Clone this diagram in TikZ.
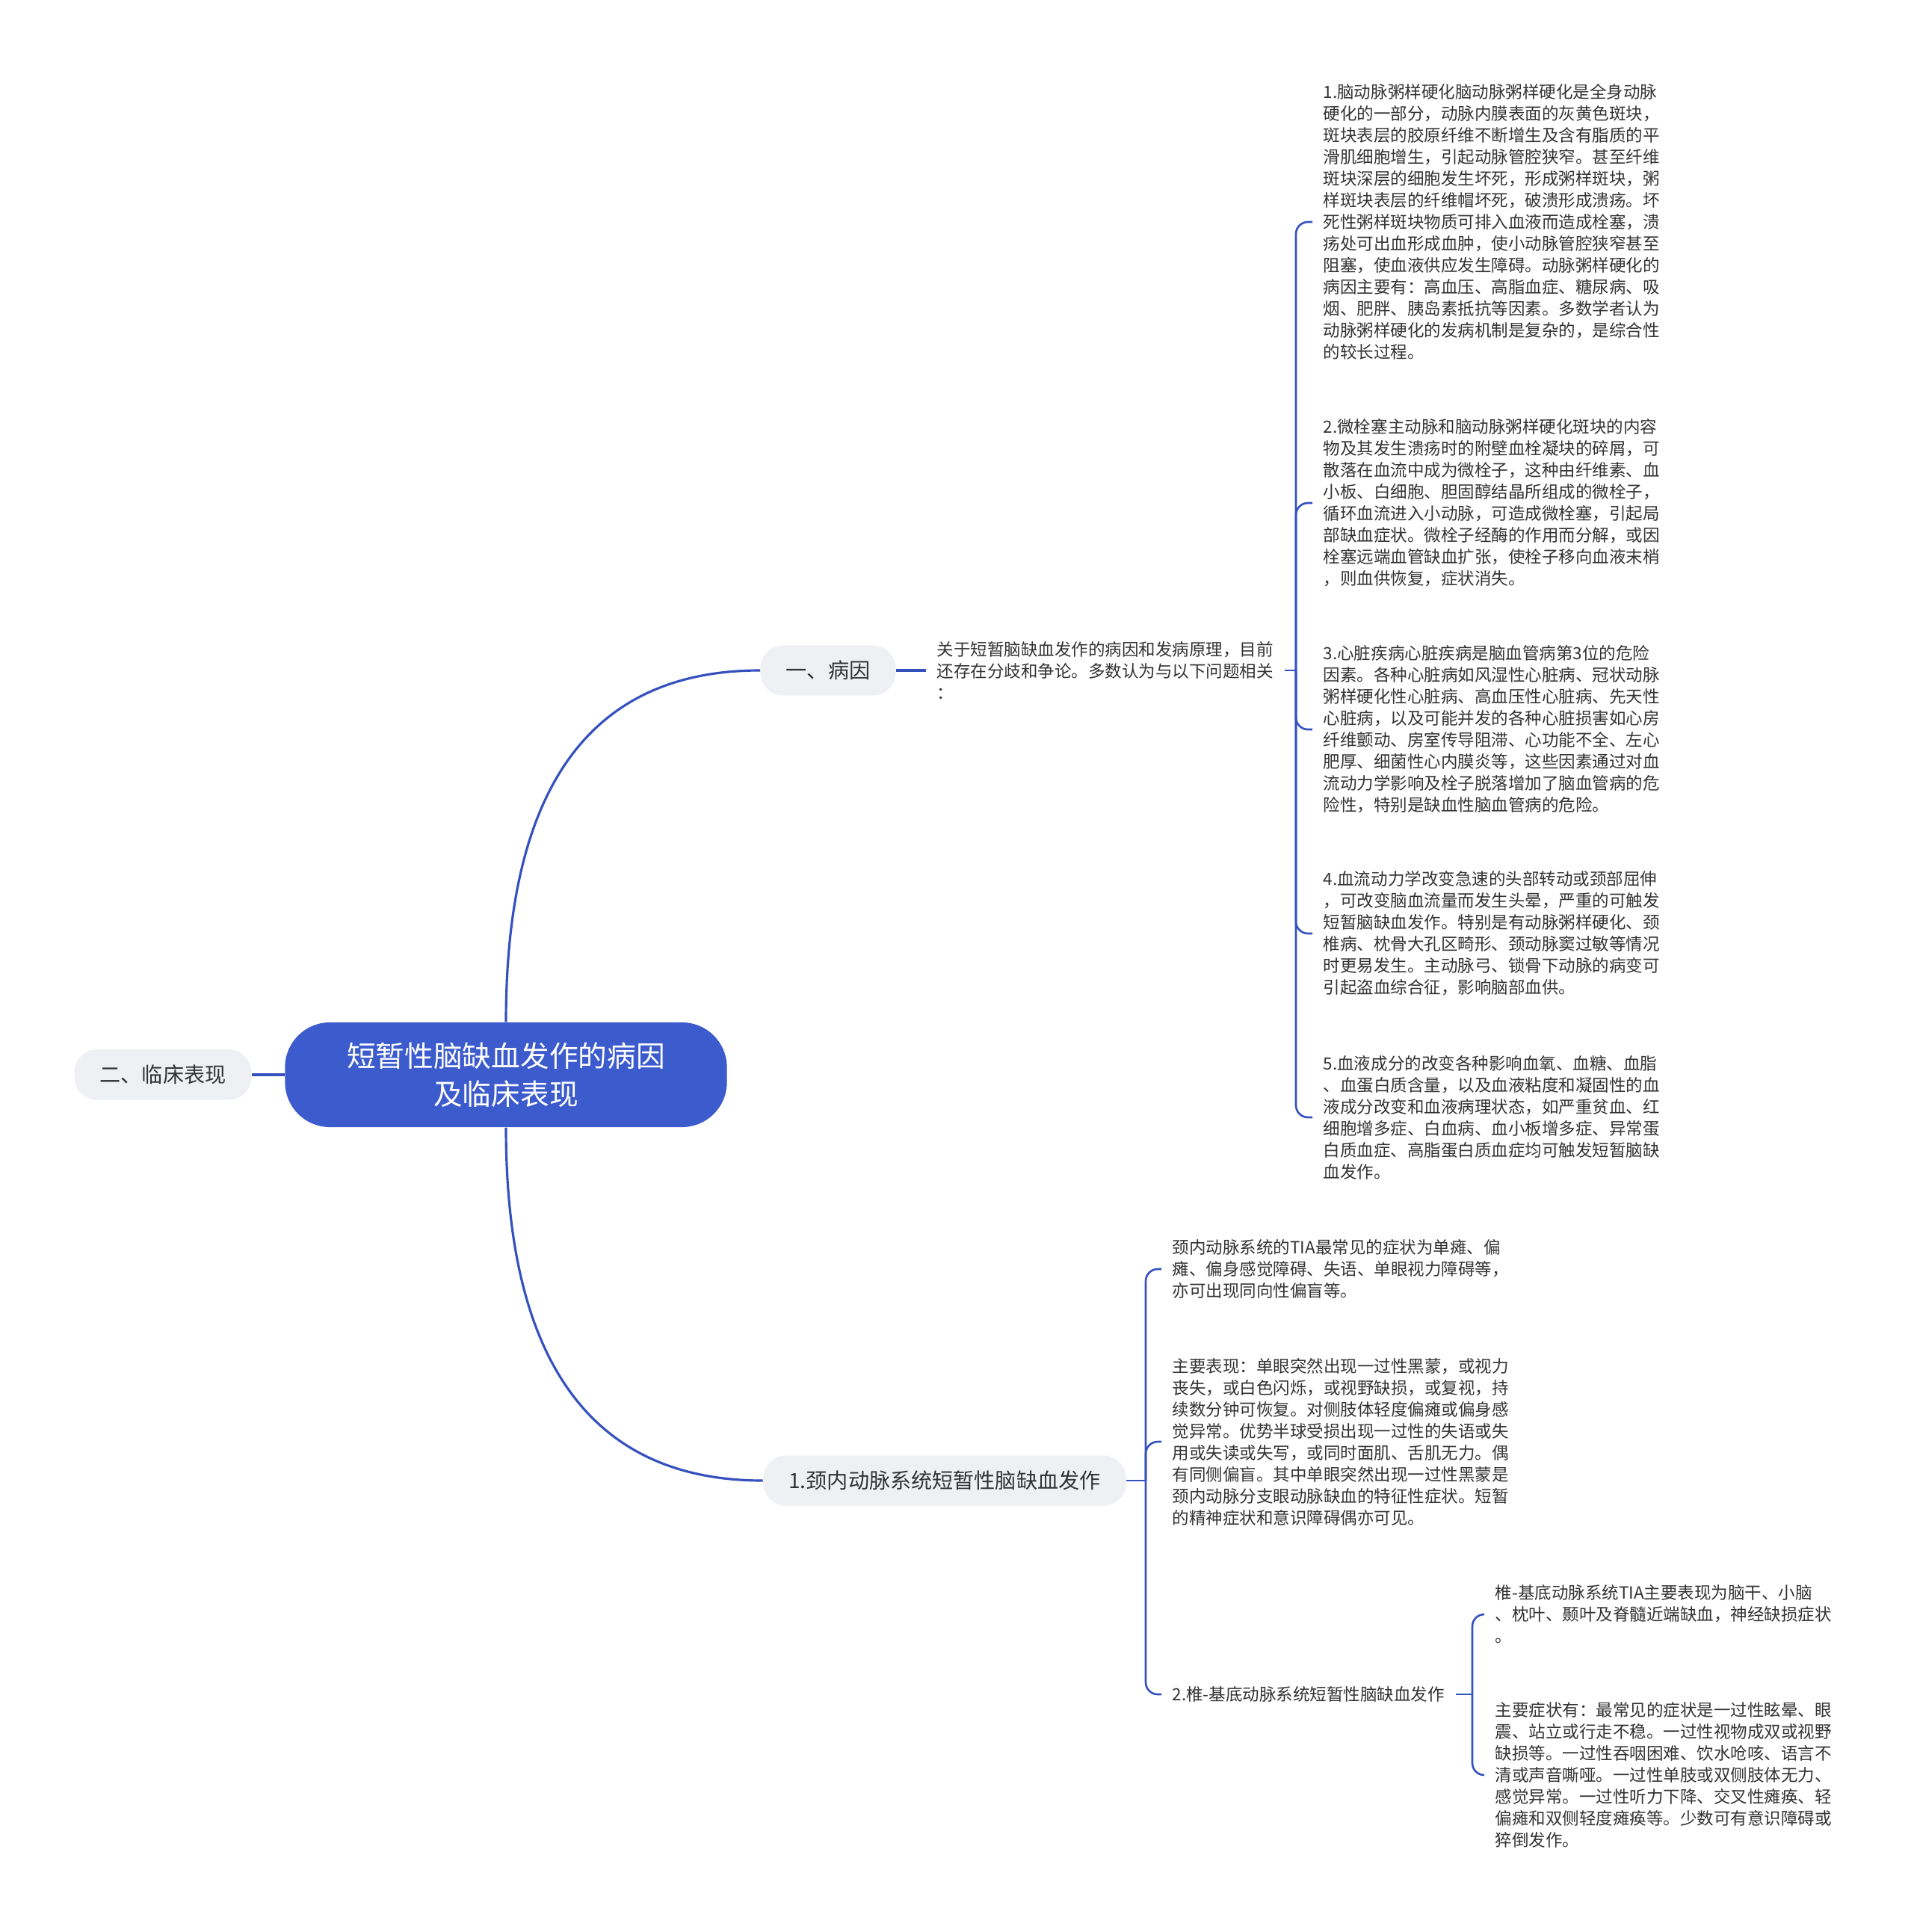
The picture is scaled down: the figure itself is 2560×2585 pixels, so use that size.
\documentclass[tikz,border=0pt]{standalone}
\usepackage{fontspec}
\setmainfont{Noto Sans CJK SC}

\begin{document}
\begin{tikzpicture}[x=0.01cm, y=-0.01cm,
    rootNode/.style={fill=rootColour, text=white, rounded corners=0.6cm,
        minimum width=5.91cm, minimum height=1.4cm, align=center,
        font=\fontsize{11}{14.5}\selectfont},
    topicNode/.style={fill=topicColour, text=textColour, rounded corners=0.3cm,
        minimum height=0.67cm, inner xsep=0.34cm, inner ysep=0pt,
        font=\fontsize{8}{9.6}\selectfont},
    detailText/.style={anchor=west, align=left, inner xsep=0.14cm, inner ysep=0pt,
        text=textColour, font=\fontsize{6.4}{8.25}\selectfont},
    branchLine/.style={draw=lineColour, line width=0.9pt},
    forkLine/.style={draw=lineColour, line width=0.75pt, rounded corners=0.16cm}]
    \definecolor{rootColour}{HTML}{3C5BCD}
    \definecolor{lineColour}{HTML}{3551BE}
    \definecolor{topicColour}{HTML}{EEF0F4}
    \definecolor{textColour}{HTML}{333333}

    % Page
    \fill[white] (0,0) rectangle (2560,2585);
    \useasboundingbox (0,0) rectangle (2560,2585);

    % Main topics
    \node[rootNode] (root) at (677,1438) {短暂性脑缺血发作的病因\\及临床表现};
    \node[topicNode] (clinical) at (218,1438) {二、临床表现};
    \node[topicNode] (cause) at (1108,897) {一、病因};
    \node[topicNode] (carotid) at (1264,1981) {1.颈内动脉系统短暂性脑缺血发作};

    \draw[branchLine] (root.west) -- (clinical.east);
    \draw[branchLine] (root.north) .. controls +(0,-314) and +(-227,0) .. (cause.west);
    \draw[branchLine] (root.south) .. controls +(0,316) and +(-227,0) .. (carotid.west);

    % Causes
    \node[detailText] (intro) at (1239,897) {关于短暂脑缺血发作的病因和发病原理，目前\\还存在分歧和争论。多数认为与以下问题相关\\：};
    \coordinate (causeFork) at (1734,897);

    \node[detailText] (causeA) at (1756,297) {1.脑动脉粥样硬化脑动脉粥样硬化是全身动脉\\硬化的一部分，动脉内膜表面的灰黄色斑块，\\斑块表层的胶原纤维不断增生及含有脂质的平\\滑肌细胞增生，引起动脉管腔狭窄。甚至纤维\\斑块深层的细胞发生坏死，形成粥样斑块，粥\\样斑块表层的纤维帽坏死，破溃形成溃疡。坏\\死性粥样斑块物质可排入血液而造成栓塞，溃\\疡处可出血形成血肿，使小动脉管腔狭窄甚至\\阻塞，使血液供应发生障碍。动脉粥样硬化的\\病因主要有：高血压、高脂血症、糖尿病、吸\\烟、肥胖、胰岛素抵抗等因素。多数学者认为\\动脉粥样硬化的发病机制是复杂的，是综合性\\的较长过程。};
    \node[detailText] (causeB) at (1756,673) {2.微栓塞主动脉和脑动脉粥样硬化斑块的内容\\物及其发生溃疡时的附壁血栓凝块的碎屑，可\\散落在血流中成为微栓子，这种由纤维素、血\\小板、白细胞、胆固醇结晶所组成的微栓子，\\循环血流进入小动脉，可造成微栓塞，引起局\\部缺血症状。微栓子经酶的作用而分解，或因\\栓塞远端血管缺血扩张，使栓子移向血液末梢\\，则血供恢复，症状消失。};
    \node[detailText] (causeC) at (1756,976) {3.心脏疾病心脏疾病是脑血管病第3位的危险\\因素。各种心脏病如风湿性心脏病、冠状动脉\\粥样硬化性心脏病、高血压性心脏病、先天性\\心脏病，以及可能并发的各种心脏损害如心房\\纤维颤动、房室传导阻滞、心功能不全、左心\\肥厚、细菌性心内膜炎等，这些因素通过对血\\流动力学影响及栓子脱落增加了脑血管病的危\\险性，特别是缺血性脑血管病的危险。};
    \node[detailText] (causeD) at (1756,1249) {4.血流动力学改变急速的头部转动或颈部屈伸\\，可改变脑血流量而发生头晕，严重的可触发\\短暂脑缺血发作。特别是有动脉粥样硬化、颈\\椎病、枕骨大孔区畸形、颈动脉窦过敏等情况\\时更易发生。主动脉弓、锁骨下动脉的病变可\\引起盗血综合征，影响脑部血供。};
    \node[detailText] (causeE) at (1756,1495) {5.血液成分的改变各种影响血氧、血糖、血脂\\、血蛋白质含量，以及血液粘度和凝固性的血\\液成分改变和血液病理状态，如严重贫血、红\\细胞增多症、白血病、血小板增多症、异常蛋\\白质血症、高脂蛋白质血症均可触发短暂脑缺\\血发作。};

    \draw[branchLine] (cause.east) -- (intro.west);
    \draw[forkLine] (intro.east) -- (causeFork);
    \foreach \child in {causeA,causeB,causeC,causeD,causeE}
        \draw[forkLine] (causeFork) |- (\child.west);

    % Clinical signs
    \coordinate (carotidFork) at (1533,1981);
    \node[detailText] (carotidA) at (1554,1698) {颈内动脉系统的TIA最常见的症状为单瘫、偏\\瘫、偏身感觉障碍、失语、单眼视力障碍等，\\亦可出现同向性偏盲等。};
    \node[detailText] (carotidB) at (1554,1929) {主要表现：单眼突然出现一过性黑蒙，或视力\\丧失，或白色闪烁，或视野缺损，或复视，持\\续数分钟可恢复。对侧肢体轻度偏瘫或偏身感\\觉异常。优势半球受损出现一过性的失语或失\\用或失读或失写，或同时面肌、舌肌无力。偶\\有同侧偏盲。其中单眼突然出现一过性黑蒙是\\颈内动脉分支眼动脉缺血的特征性症状。短暂\\的精神症状和意识障碍偶亦可见。};
    \node[detailText] (vertebral) at (1554,2267) {2.椎-基底动脉系统短暂性脑缺血发作};

    \draw[forkLine] (carotid.east) -- (carotidFork);
    \foreach \child in {carotidA,carotidB,vertebral}
        \draw[forkLine] (carotidFork) |- (\child.west);

    \coordinate (vertebralFork) at (1970,2267);
    \node[detailText] (vertebralA) at (1986,2160) {椎-基底动脉系统TIA主要表现为脑干、小脑\\、枕叶、颞叶及脊髓近端缺血，神经缺损症状\\。};
    \node[detailText] (vertebralB) at (1986,2375) {主要症状有：最常见的症状是一过性眩晕、眼\\震、站立或行走不稳。一过性视物成双或视野\\缺损等。一过性吞咽困难、饮水呛咳、语言不\\清或声音嘶哑。一过性单肢或双侧肢体无力、\\感觉异常。一过性听力下降、交叉性瘫痪、轻\\偏瘫和双侧轻度瘫痪等。少数可有意识障碍或\\猝倒发作。};

    \draw[forkLine] (vertebral.east) -- (vertebralFork);
    \foreach \child in {vertebralA,vertebralB}
        \draw[forkLine] (vertebralFork) |- (\child.west);

\end{tikzpicture}
\end{document}
